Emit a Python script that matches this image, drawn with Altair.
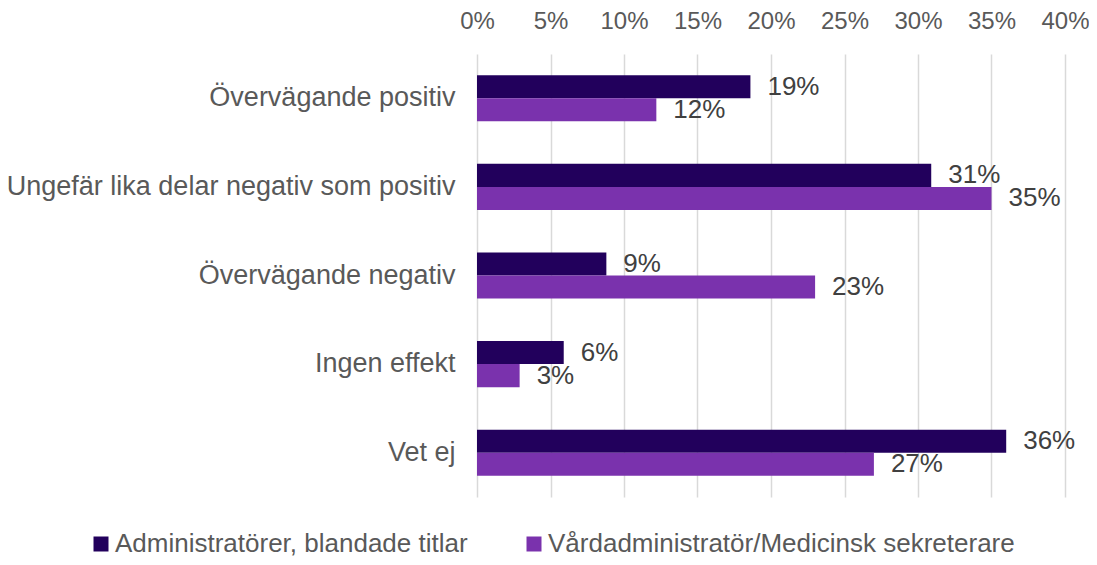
import altair as alt
import pandas as pd

categories = ["Övervägande positiv", "Ungefär lika delar negativ som positiv",
              "Övervägande negativ", "Ingen effekt", "Vet ej"]
series = ["Administratörer, blandade titlar", "Vårdadministratör/Medicinsk sekreterare"]
admin = [0.186, 0.309, 0.088, 0.059, 0.360]
vard = [0.122, 0.350, 0.230, 0.029, 0.270]
colors = ["#22005C", "#7A32AD"]

rows = []
for i, c in enumerate(categories):
    rows.append({"cat": c, "ser": series[0], "val": admin[i]})
    rows.append({"cat": c, "ser": series[1], "val": vard[i]})
df = pd.DataFrame(rows)

FONT = "Liberation Sans"

base = alt.Chart(df).encode(
    y=alt.Y("cat:N", sort=categories, title=None,
            scale=alt.Scale(paddingInner=0.48, paddingOuter=0.24),
            axis=alt.Axis(labelFontSize=27, labelColor="#595959", labelFont=FONT,
                          ticks=False, domain=False, labelPadding=22, labelLimit=600)),
    yOffset=alt.YOffset("ser:N", sort=series, scale=alt.Scale(paddingInner=0, paddingOuter=0)),
)

bars = base.mark_bar(cornerRadius=0).encode(
    x=alt.X("val:Q", title=None,
            scale=alt.Scale(domain=[0, 0.4], nice=False),
            axis=alt.Axis(orient="top", format=".0%", values=[0, 0.05, 0.1, 0.15, 0.2, 0.25, 0.3, 0.35, 0.4],
                          labelFontSize=24, labelColor="#595959", labelFont=FONT,
                          labelFlush=False, labelOverlap=False,
                          ticks=False, domain=False, labelPadding=21,
                          grid=True, gridColor="#D9D9D9", gridWidth=1.5)),
    color=alt.Color("ser:N", sort=series, title=None,
                    scale=alt.Scale(domain=series, range=colors),
                    legend=alt.Legend(orient="none", legendX=-389, legendY=477, direction="horizontal",
                                      symbolType="square", symbolSize=225, symbolStrokeWidth=0,
                                      labelFontSize=26, labelColor="#595959", labelFont=FONT,
                                      labelOffset=1, columnPadding=53, labelLimit=700)),
)

labels = base.mark_text(align="left", baseline="middle", dx=17, fontSize=26,
                        color="#404040", font=FONT).encode(
    x=alt.X("val:Q"),
    text=alt.Text("val:Q", format=".0%"),
)

chart = alt.layer(bars, labels).properties(
    width=588, height=443,
    background="white",
    autosize=alt.AutoSizeParams(type="none"),
    padding={"left": 469, "top": 46, "right": 24, "bottom": 60},
).configure_view(stroke=None)

chart.save("out.html", embed_options={"renderer": "svg", "actions": False})
